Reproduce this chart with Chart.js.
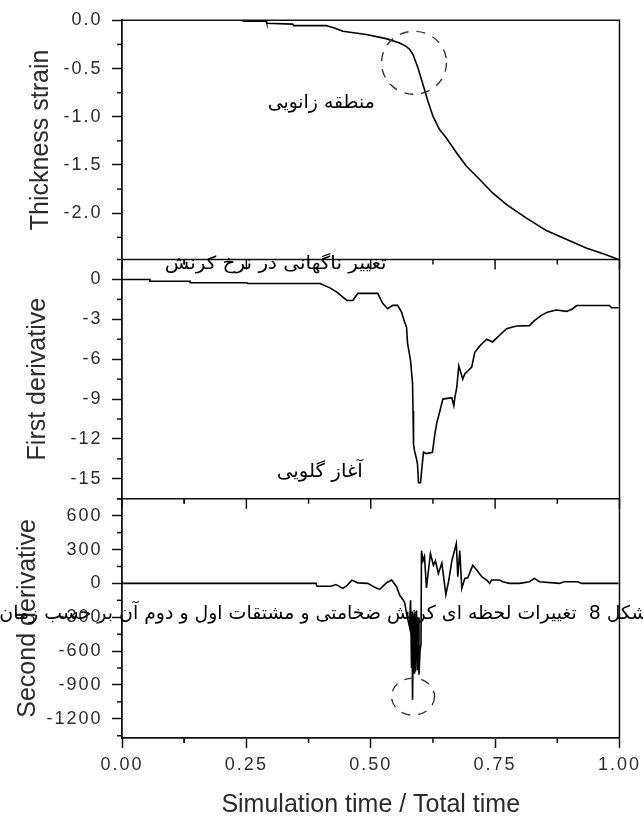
<!DOCTYPE html>
<html>
<head>
<meta charset="utf-8">
<script src="https://cdn.jsdelivr.net/npm/chart.js@4.4.1/dist/chart.umd.min.js"></script>
<style>
  html, body { margin: 0; padding: 0; background: #fff; }
  canvas { display: block; }
</style>
</head>
<body>
<canvas id="c" width="643" height="818"></canvas>
<script>
// Thickness strain versus normalised simulation time
const timeStrain = [0, 0.24, 0.245, 0.29, 0.291, 0.343, 0.345, 0.41, 0.427, 0.444, 0.491, 0.531, 0.558, 0.571, 0.578,
  0.585, 0.595, 0.605, 0.615, 0.625, 0.638, 0.652, 0.672, 0.692, 0.719, 0.745, 0.773, 0.813, 0.853, 0.893, 0.933, 0.973, 0.998];
const thicknessStrain = [0, 0, -0.01, -0.01, -0.03, -0.04, -0.055, -0.055, -0.08, -0.114, -0.148, -0.19, -0.235, -0.27, -0.30,
  -0.355, -0.494, -0.666, -0.84, -0.994, -1.13, -1.22, -1.37, -1.51, -1.65, -1.79, -1.91, -2.05, -2.18, -2.27, -2.36, -2.43, -2.48];

// First derivative of the strain
const timeFirst = [0, 0.056, 0.056, 0.137, 0.137, 0.251, 0.252, 0.384, 0.398, 0.418, 0.432, 0.444, 0.452, 0.464, 0.474, 0.514,
  0.524, 0.534, 0.544, 0.554, 0.562, 0.568, 0.572, 0.574, 0.580, 0.584, 0.585, 0.586, 0.588, 0.592, 0.594, 0.596, 0.600, 0.602,
  0.606, 0.612, 0.624, 0.629, 0.633, 0.639, 0.645, 0.663, 0.667, 0.669, 0.673, 0.677, 0.685, 0.689, 0.703, 0.709, 0.719, 0.733,
  0.745, 0.759, 0.773, 0.793, 0.819, 0.829, 0.843, 0.855, 0.873, 0.894, 0.906, 0.914, 0.980, 0.984, 0.998];
const firstDerivative = [0, 0, -0.13, -0.13, -0.25, -0.25, -0.3, -0.3, -0.3, -0.63, -0.95, -1.33, -1.58, -1.58, -1.05, -1.05,
  -1.8, -2.2, -1.95, -1.95, -2.46, -3.2, -3.6, -4.8, -6.1, -7.8, -9.9, -12.4, -12.9, -13.5, -13.9, -15.3, -15.3, -14.5,
  -13.0, -13.1, -13.0, -11.6, -10.75, -9.9, -9.0, -8.9, -9.5, -8.9, -8.1, -6.5, -7.5, -7.1, -6.6, -5.5, -5.0, -4.5,
  -4.7, -4.2, -3.7, -3.5, -3.47, -3.1, -2.7, -2.46, -2.3, -2.4, -2.2, -1.96, -1.96, -2.13, -2.13];

// Second derivative of the strain
const timeSecond = [0, 0.39, 0.392, 0.42, 0.43, 0.444, 0.452, 0.462, 0.474, 0.494, 0.508, 0.518, 0.532, 0.542, 0.552, 0.558,
  0.568, 0.572, 0.578, 0.580, 0.582, 0.583, 0.584, 0.586, 0.588, 0.589, 0.590, 0.592, 0.594, 0.595, 0.597, 0.599, 0.601,
  0.602, 0.605, 0.608, 0.612, 0.620, 0.626, 0.630, 0.636, 0.643, 0.651, 0.657, 0.663, 0.672, 0.675, 0.679, 0.683, 0.689,
  0.695, 0.705, 0.713, 0.723, 0.733, 0.739, 0.743, 0.759, 0.765, 0.779, 0.799, 0.819, 0.829, 0.839, 0.879, 0.889, 0.916,
  0.924, 0.998];
const secondDerivative = [0, 0, -25, -25, -10, -44, -20, 29, 5, 0, -35, -53, 6, 29, -29, -103,
  -165, -265, -385, -150, -750, -250, -1030, -300, -800, -250, -780, -240, -770, -300, -810, -600, -540,
  290, 200, 240, -40, 265, 160, 200, 88, 180, -100, 30, 200, 353, 60, 290, -44, 44,
  50, 160, 118, 60, 30, 0, 30, 30, 15, 0, 0, 15, 44, 15, 0, 15, 15,
  0, 0];

// Tick values
const xTicks = [0, 0.25, 0.5, 0.75, 1];
const strainTicks = [0, -0.5, -1, -1.5, -2];
const firstTicks = [0, -3, -6, -9, -12, -15];
const secondTicks = [600, 300, 0, -300, -600, -900, -1200];

// Annotation texts
const kneeLabel = 'منطقه زانویی';
const rateLabel = 'تغییر ناگهانی در نرخ کرنش';
const neckLabel = 'آغاز گلویی';
const captionLabel = 'شکل 8  تغییرات لحظه ای کرنش ضخامتی و مشتقات اول و دوم آن بر حسب زمان';

const INK = '#111';
const TEXT = '#2b2b2b';
const sans = 'Liberation Sans';

const pts = (xs, ys) => xs.map((x, i) => ({ x, y: ys[i] }));

function yAxis(ticks, min, max, title, titlePad, weight, decimals) {
  return {
    type: 'linear', position: 'left', stack: 'panels', stackWeight: 1, weight,
    min, max, offset: false,
    afterFit: s => { s.width = 122; },
    afterBuildTicks: s => { s.ticks = ticks.map(v => ({ value: v })); },
    grid: { drawOnChartArea: false, drawTicks: true, tickLength: 10, tickColor: INK, tickWidth: 1.5 },
    border: { display: true, color: INK, width: 1.8 },
    ticks: {
      callback: v => Number(v).toFixed(decimals),
      font: { family: sans, size: 18 }, color: TEXT, padding: 9.5, autoSkip: false
    },
    title: {
      display: true, text: title, color: TEXT,
      font: { family: sans, size: 25, lineHeight: 1.2 }, padding: { top: titlePad, bottom: 0 }
    }
  };
}

// Minor ticks halfway between majors, plus one beyond each end if it fits
function minorTicks(ticks, min, max) {
  const st = Math.abs(ticks[1] - ticks[0]);
  const out = [];
  if (ticks[0] + st / 2 <= max + 1e-9) out.push(ticks[0] + st / 2);
  ticks.forEach(t => { if (t - st / 2 >= min - 1e-9) out.push(t - st / 2); });
  return out;
}

// Tick labels with wider character spacing
const spacedLabels = {
  id: 'spacedLabels',
  beforeDraw(chart) {
    Object.values(chart.scales).forEach(s => {
      if (s._spaced) return;
      const base = s.drawLabels;
      s.drawLabels = function (area) {
        const c = this.ctx;
        c.save();
        c.letterSpacing = '2px';
        base.call(this, area);
        c.restore();
      };
      s._spaced = true;
    });
  }
};

function seg(ctx, x1, y1, x2, y2) {
  ctx.beginPath(); ctx.moveTo(x1, y1); ctx.lineTo(x2, y2); ctx.stroke();
}

function drawRtl(ctx, text, xr, yc, width, size) {
  ctx.save();
  ctx.font = size + 'px "DejaVu Sans"';
  ctx.direction = 'rtl';
  ctx.textAlign = 'right';
  ctx.textBaseline = 'middle';
  ctx.fillStyle = '#000';
  const m = ctx.measureText(text).width;
  ctx.translate(xr, yc);
  ctx.scale(width / m, 1);
  ctx.fillText(text, 0, 0);
  ctx.restore();
}

function dashedEllipse(ctx, cx, cy, rx, ry) {
  ctx.save();
  ctx.setLineDash([9, 8]);
  ctx.lineWidth = 1.4;
  ctx.strokeStyle = '#333';
  ctx.beginPath();
  ctx.ellipse(cx, cy, rx, ry, 0, 0, Math.PI * 2);
  ctx.stroke();
  ctx.restore();
}

const frame = {
  id: 'frame',
  afterDraw(chart) {
    const { ctx, chartArea: a, scales } = chart;
    const x = scales.x, yS = scales.yStrain, yF = scales.yFirst, yD = scales.ySecond;
    ctx.save();
    ctx.strokeStyle = INK;
    ctx.lineWidth = 1.5;
    ctx.letterSpacing = '0px';
    // top and right border
    ctx.beginPath();
    ctx.moveTo(a.left, a.top); ctx.lineTo(a.right, a.top); ctx.lineTo(a.right, a.bottom);
    ctx.stroke();
    // panel separators, each carrying its own x ticks
    const xMinor = minorTicks(xTicks, 0, 1);
    [yS.bottom, yF.bottom].forEach(yb => {
      seg(ctx, a.left, yb, a.right, yb);
      xTicks.forEach(v => { const p = x.getPixelForValue(v); seg(ctx, p, yb, p, yb + 10); });
    });
    [yS.bottom, yF.bottom, yD.bottom].forEach(yb => {
      xMinor.forEach(v => { const p = x.getPixelForValue(v); seg(ctx, p, yb, p, yb + 5); });
    });
    // minor y ticks
    [[yS, strainTicks], [yF, firstTicks], [yD, secondTicks]].forEach(([s, t]) => {
      minorTicks(t, s.min, s.max).forEach(v => {
        const p = s.getPixelForValue(v);
        seg(ctx, a.left - 5, p, a.left, p);
      });
    });
    ctx.restore();

    // annotations
    dashedEllipse(ctx, x.getPixelForValue(0.587), yS.getPixelForValue(-0.44), 32.5, 31.5);
    dashedEllipse(ctx, x.getPixelForValue(0.585), yD.getPixelForValue(-1003), 21.5, 18.5);
    drawRtl(ctx, kneeLabel, x.getPixelForValue(0.508), yS.getPixelForValue(-0.86), 107, 19);
    drawRtl(ctx, rateLabel, x.getPixelForValue(0.532), yF.getPixelForValue(1.15), 222, 18);
    drawRtl(ctx, neckLabel, x.getPixelForValue(0.484), yF.getPixelForValue(-14.5), 86, 19);
    drawRtl(ctx, captionLabel, x.getPixelForValue(1.056), yD.getPixelForValue(-270), 648, 19);
  }
};

const lineStyle = { borderColor: '#000', borderWidth: 1.6, pointRadius: 0, tension: 0, fill: false };

new Chart(document.getElementById('c'), {
  type: 'line',
  data: {
    datasets: [
      Object.assign({ label: 'Thickness strain', data: pts(timeStrain, thicknessStrain), yAxisID: 'yStrain' }, lineStyle),
      Object.assign({ label: 'First derivative', data: pts(timeFirst, firstDerivative), yAxisID: 'yFirst' }, lineStyle),
      Object.assign({ label: 'Second derivative', data: pts(timeSecond, secondDerivative), yAxisID: 'ySecond' }, lineStyle)
    ]
  },
  options: {
    responsive: false,
    animation: false,
    devicePixelRatio: 1,
    parsing: true,
    layout: { padding: { left: 0, right: 23, top: 19, bottom: 0 } },
    plugins: { legend: { display: false }, tooltip: { enabled: false } },
    scales: {
      x: {
        type: 'linear', position: 'bottom', min: 0, max: 1,
        afterFit: s => { s.height = 80; },
        afterBuildTicks: s => { s.ticks = xTicks.map(v => ({ value: v })); },
        grid: { drawOnChartArea: false, drawTicks: true, tickLength: 10, tickColor: INK, tickWidth: 1.5 },
        border: { display: true, color: INK, width: 1.8 },
        ticks: {
          callback: v => Number(v).toFixed(2),
          font: { family: sans, size: 18 }, color: TEXT, padding: 6, maxRotation: 0, autoSkip: false
        },
        title: {
          display: true, text: 'Simulation time / Total time', color: TEXT,
          font: { family: sans, size: 25, lineHeight: 1 }, padding: { top: 0, bottom: 0 }
        }
      },
      yStrain: yAxis(strainTicks, -2.48, 0, 'Thickness strain', 26, 3, 1),
      yFirst: yAxis(firstTicks, -16.5, 1.5, 'First derivative', 23, 2, 0),
      ySecond: yAxis(secondTicks, -1370, 750, 'Second derivative', 13, 1, 0)
    }
  },
  plugins: [spacedLabels, frame]
});
</script>
</body>
</html>
